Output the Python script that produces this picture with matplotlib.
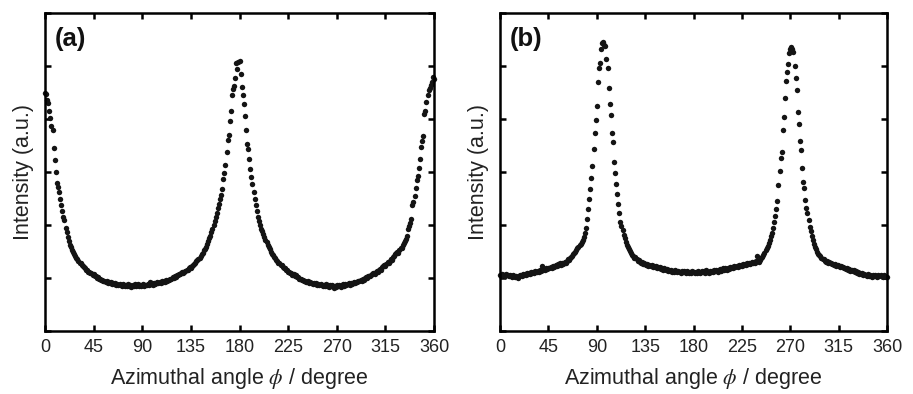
import numpy as np
import matplotlib
matplotlib.use('Agg')
import matplotlib.pyplot as plt

# azimuthal angle, one point per degree
angle = np.arange(0, 361)

# panel (a): intensity (a.u.), peaks at 0/180/360
intensity_a = [
	4.50, 4.47, 4.36, 4.30, 4.16, 4.02, 3.86, 3.79, 3.46, 3.22,
	3.00, 2.80, 2.72, 2.63, 2.50, 2.38, 2.27, 2.16, 2.09, 1.95,
	1.86, 1.77, 1.70, 1.63, 1.58, 1.53, 1.50, 1.45, 1.41, 1.38,
	1.35, 1.33, 1.29, 1.28, 1.24, 1.23, 1.20, 1.19, 1.15, 1.16,
	1.12, 1.11, 1.09, 1.09, 1.06, 1.07, 1.03, 1.04, 1.00, 1.01,
	0.98, 0.99, 0.96, 0.97, 0.94, 0.95, 0.93, 0.94, 0.91, 0.93,
	0.91, 0.92, 0.89, 0.90, 0.88, 0.91, 0.87, 0.89, 0.86, 0.88,
	0.87, 0.85, 0.88, 0.86, 0.84, 0.87, 0.85, 0.88, 0.84, 0.86,
	0.83, 0.87, 0.85, 0.88, 0.84, 0.86, 0.89, 0.85, 0.87, 0.84,
	0.86, 0.88, 0.85, 0.87, 0.86, 0.89, 0.87, 0.92, 0.88, 0.90,
	0.87, 0.91, 0.89, 0.90, 0.92, 0.90, 0.93, 0.91, 0.94, 0.92,
	0.95, 0.93, 0.96, 0.95, 0.97, 0.96, 0.99, 0.98, 1.01, 1.00,
	1.03, 1.02, 1.05, 1.06, 1.08, 1.07, 1.10, 1.12, 1.09, 1.12,
	1.14, 1.15, 1.16, 1.18, 1.20, 1.19, 1.22, 1.24, 1.27, 1.28,
	1.32, 1.34, 1.35, 1.38, 1.41, 1.45, 1.48, 1.52, 1.55, 1.59,
	1.64, 1.69, 1.75, 1.80, 1.86, 1.93, 2.00, 2.07, 2.15, 2.23,
	2.32, 2.40, 2.49, 2.57, 2.68, 2.86, 2.99, 3.13, 3.38, 3.60,
	3.70, 3.96, 4.15, 4.46, 4.56, 4.62, 4.78, 5.05, 4.95, 5.08,
	5.10, 4.84, 4.61, 4.45, 4.28, 4.05, 3.80, 3.52, 3.44, 3.24,
	3.05, 2.90, 2.78, 2.62, 2.50, 2.38, 2.26, 2.16, 2.08, 2.00,
	1.93, 1.88, 1.83, 1.77, 1.72, 1.67, 1.63, 1.58, 1.54, 1.50,
	1.46, 1.44, 1.40, 1.38, 1.34, 1.33, 1.29, 1.28, 1.25, 1.24,
	1.21, 1.19, 1.18, 1.15, 1.16, 1.12, 1.11, 1.09, 1.10, 1.06,
	1.07, 1.03, 1.05, 1.01, 1.02, 0.99, 0.98, 0.99, 0.96, 0.97,
	0.94, 0.95, 0.92, 0.94, 0.91, 0.93, 0.90, 0.91, 0.89, 0.91,
	0.88, 0.90, 0.87, 0.89, 0.86, 0.88, 0.86, 0.84, 0.87, 0.85,
	0.88, 0.84, 0.86, 0.83, 0.86, 0.84, 0.87, 0.82, 0.85, 0.83,
	0.86, 0.84, 0.87, 0.85, 0.83, 0.86, 0.88, 0.85, 0.89, 0.86,
	0.88, 0.90, 0.87, 0.91, 0.89, 0.90, 0.92, 0.90, 0.93, 0.92,
	0.95, 0.94, 0.96, 0.95, 0.98, 0.97, 1.00, 1.01, 1.00, 1.03,
	1.04, 1.03, 1.06, 1.07, 1.09, 1.08, 1.11, 1.13, 1.12, 1.15,
	1.17, 1.16, 1.20, 1.22, 1.24, 1.23, 1.27, 1.30, 1.29, 1.33,
	1.36, 1.34, 1.39, 1.42, 1.45, 1.47, 1.50, 1.48, 1.53, 1.56,
	1.57, 1.62, 1.66, 1.70, 1.73, 1.80, 1.93, 1.98, 2.04, 2.12,
	2.38, 2.44, 2.55, 2.70, 2.84, 2.93, 3.08, 3.25, 3.48, 3.58,
	3.68, 4.10, 4.16, 4.33, 4.45, 4.55, 4.58, 4.64, 4.70, 4.80,
	4.76,
]

# panel (b): intensity (a.u.), peaks near 97 and 271
intensity_b = [
	1.06, 1.04, 1.07, 1.05, 1.06, 1.04, 1.07, 1.05, 1.03, 1.06,
	1.04, 1.02, 1.05, 1.03, 1.01, 1.04, 1.02, 1.00, 1.03, 1.05,
	1.04, 1.07, 1.05, 1.08, 1.06, 1.09, 1.07, 1.10, 1.08, 1.11,
	1.09, 1.12, 1.10, 1.13, 1.11, 1.14, 1.12, 1.16, 1.13, 1.22,
	1.15, 1.17, 1.16, 1.18, 1.17, 1.19, 1.18, 1.20, 1.19, 1.22,
	1.20, 1.23, 1.25, 1.22, 1.26, 1.24, 1.28, 1.25, 1.29, 1.27,
	1.31, 1.29, 1.33, 1.36, 1.34, 1.38, 1.40, 1.42, 1.45, 1.47,
	1.50, 1.53, 1.56, 1.58, 1.62, 1.65, 1.68, 1.72, 1.78, 1.84,
	1.95, 2.12, 2.30, 2.50, 2.68, 2.88, 3.11, 3.43, 3.74, 3.98,
	4.25, 4.69, 4.97, 5.05, 5.33, 5.43, 5.46, 5.40, 5.38, 5.13,
	4.97, 4.58, 4.28, 4.08, 3.74, 3.57, 3.19, 2.98, 2.77, 2.58,
	2.40, 2.23, 2.06, 1.98, 1.91, 1.82, 1.75, 1.68, 1.62, 1.58,
	1.55, 1.51, 1.48, 1.44, 1.41, 1.38, 1.39, 1.35, 1.33, 1.34,
	1.31, 1.29, 1.30, 1.27, 1.28, 1.26, 1.24, 1.26, 1.23, 1.25,
	1.22, 1.24, 1.21, 1.23, 1.20, 1.22, 1.19, 1.21, 1.18, 1.20,
	1.17, 1.19, 1.16, 1.18, 1.15, 1.17, 1.14, 1.16, 1.13, 1.15,
	1.12, 1.14, 1.11, 1.15, 1.13, 1.11, 1.14, 1.12, 1.10, 1.13,
	1.11, 1.14, 1.12, 1.10, 1.13, 1.11, 1.09, 1.12, 1.10, 1.13,
	1.11, 1.09, 1.12, 1.10, 1.13, 1.11, 1.09, 1.12, 1.14, 1.11,
	1.13, 1.10, 1.15, 1.12, 1.10, 1.13, 1.11, 1.14, 1.12, 1.15,
	1.13, 1.16, 1.14, 1.12, 1.15, 1.17, 1.14, 1.18, 1.16, 1.19,
	1.17, 1.15, 1.19, 1.17, 1.20, 1.18, 1.21, 1.19, 1.22, 1.20,
	1.23, 1.21, 1.24, 1.22, 1.25, 1.23, 1.26, 1.24, 1.27, 1.25,
	1.28, 1.26, 1.29, 1.27, 1.30, 1.28, 1.31, 1.29, 1.32, 1.42,
	1.33, 1.31, 1.34, 1.38, 1.40, 1.44, 1.47, 1.52, 1.56, 1.61,
	1.66, 1.72, 1.79, 1.85, 1.95, 2.05, 2.17, 2.30, 2.45, 2.75,
	3.01, 3.27, 3.38, 3.79, 4.04, 4.40, 4.72, 4.88, 5.04, 5.25,
	5.32, 5.36, 5.33, 5.27, 5.00, 4.78, 4.55, 4.13, 3.90, 3.59,
	3.42, 3.08, 2.82, 2.70, 2.47, 2.32, 2.22, 2.09, 1.96, 1.88,
	1.80, 1.72, 1.64, 1.58, 1.54, 1.50, 1.46, 1.43, 1.41, 1.38,
	1.36, 1.35, 1.33, 1.31, 1.32, 1.29, 1.30, 1.28, 1.29, 1.26,
	1.27, 1.24, 1.26, 1.23, 1.25, 1.22, 1.21, 1.23, 1.20, 1.21,
	1.18, 1.19, 1.17, 1.18, 1.15, 1.17, 1.14, 1.16, 1.13, 1.15,
	1.11, 1.13, 1.09, 1.12, 1.08, 1.10, 1.07, 1.09, 1.05, 1.08,
	1.06, 1.04, 1.07, 1.03, 1.06, 1.04, 1.02, 1.05, 1.03, 1.06,
	1.04, 1.02, 1.05, 1.03, 1.06, 1.04, 1.02, 1.05, 1.03, 1.01,
	1.02,
]

xticks = [0, 45, 90, 135, 180, 225, 270, 315, 360]
panel_labels = ['(a)', '(b)']

plt.rcParams['font.family'] = ['Liberation Sans', 'DejaVu Sans']
plt.rcParams['mathtext.fontset'] = 'stix'


def draw_panel(ax, y, tag):
	ax.plot(angle, y, 'o', ms=3.9, color='#141414', mec='none', clip_on=False)
	ax.set_xlim(0, 360)
	ax.set_ylim(0, 6)
	ax.set_xticks(xticks)
	ax.set_yticks(range(7))
	ax.tick_params(direction='in', top=True, right=True, length=4, width=1.8,
				   labelleft=False, labelsize=13, pad=6, labelcolor='#222222')
	for sp in ax.spines.values():
		sp.set_linewidth(1.8)
	ax.set_xlabel(r'Azimuthal angle $\it{\phi}$ / degree', fontsize=15.5, color='#222222', labelpad=7)
	ax.set_ylabel('Intensity (a.u.)', fontsize=15.5, color='#222222', labelpad=8)
	ax.text(0.026, 0.955, tag, transform=ax.transAxes, fontsize=18.5, fontweight='bold',
			va='top', ha='left', color='#111111')


def main():
	fig = plt.figure(figsize=(9.13, 3.94), dpi=100)
	ax1 = fig.add_axes([45 / 913, 1 - 331 / 394, 389 / 913, 318 / 394])
	ax2 = fig.add_axes([500 / 913, 1 - 331 / 394, 387 / 913, 318 / 394])
	draw_panel(ax1, intensity_a, panel_labels[0])
	draw_panel(ax2, intensity_b, panel_labels[1])
	fig.savefig('out.png', dpi=100)


if __name__ == '__main__':
	main()
